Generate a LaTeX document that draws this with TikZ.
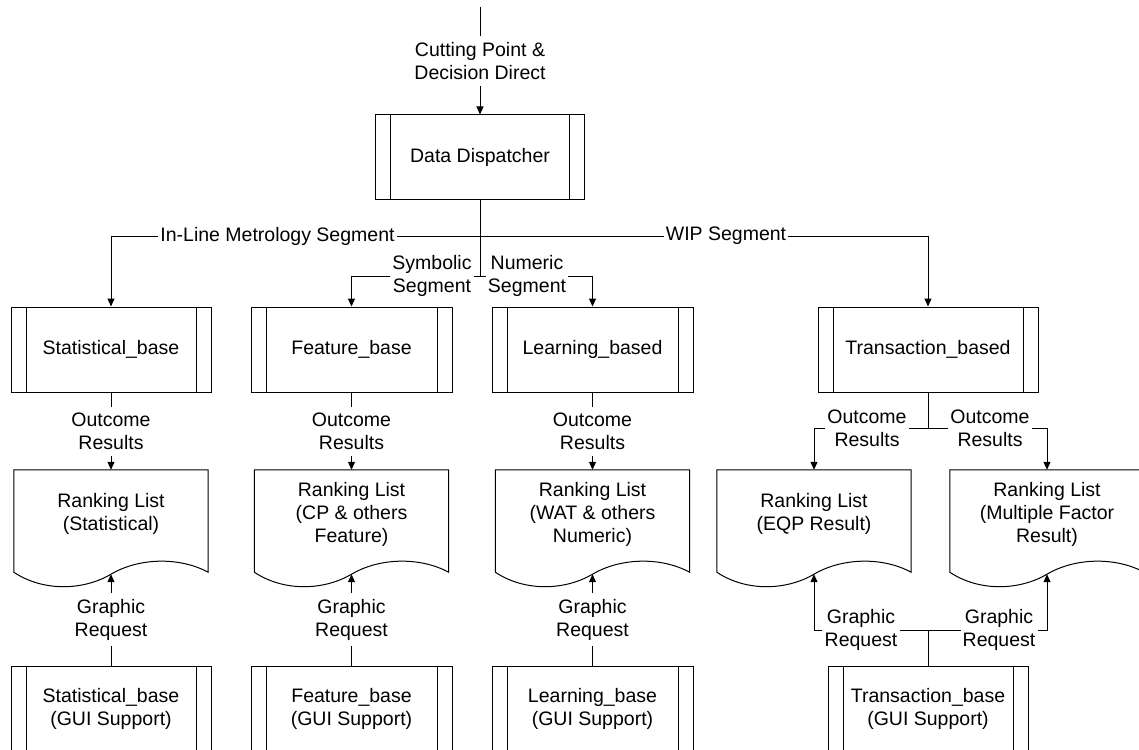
\documentclass[tikz,border=0pt]{standalone}
\usepackage{fontspec}
\setmainfont{Liberation Sans}
\usetikzlibrary{arrows.meta,calc}

\tikzset{
  conn/.style={line width=1pt},
  arr/.style={conn, -{Triangle[length=8pt,width=7pt]}},
  proc/.style={draw, line width=1pt, minimum height=85pt, align=center, inner sep=0pt,
    path picture={
      \draw[line width=1pt]
        ([xshift=15pt]path picture bounding box.north west) -- ([xshift=15pt]path picture bounding box.south west)
        ([xshift=-15pt]path picture bounding box.north east) -- ([xshift=-15pt]path picture bounding box.south east);
    }},
  doc/.style={minimum width=194pt, minimum height=88pt, align=center, inner sep=0pt},
  lbl/.style={align=center, fill=white, inner xsep=2pt, inner ysep=6pt},
}

% document symbol: straight top and sides, wavy bottom edge
\newcommand\docoutline[1]{%
  \draw[conn] ($(#1.south west)+(0,14)$) -- (#1.north west) -- (#1.north east) -- ($(#1.south east)+(0,14)$)
    .. controls +(-30,-16) and +(27,-16) .. ($(#1.south)+(0,16)$)
    .. controls +(-27,16) and +(30,20) .. ($(#1.south west)+(0,14)$) -- cycle;
  \coordinate (#1w) at ($(#1.south)+(0,16)$);%
}

\begin{document}
\begin{tikzpicture}[x=1pt, y=-1pt, font=\fontsize{19.5}{23}\selectfont]
\useasboundingbox (0,0) rectangle (1139,749);
\clip (0,0) rectangle (1139,749);

% dispatcher
\coordinate (src) at (480,7);
\node[lbl] (cut) at (480,61) {Cutting Point \&\\Decision Direct};
\node[proc, minimum width=209pt, minimum height=84pt] (dd) at (480,157) {Data Dispatcher};
\draw[conn] (src) -- (cut);
\draw[arr] (cut) -- (dd);

% analysis engines
\node[proc, minimum width=200pt] (sb) at (111,349.5) {Statistical\_base};
\node[proc, minimum width=201pt] (fb) at (351.5,349.5) {Feature\_base};
\node[proc, minimum width=201pt] (lb) at (592.5,349.5) {Learning\_based};
\node[proc, minimum width=220pt] (tb) at (928,349.5) {Transaction\_based};

% segment routing
\coordinate (j1) at (480,236);
\coordinate (j2) at (480,276);
\node[lbl] (ilm) at (277.5,236) {In-Line Metrology Segment};
\node[lbl] (wip) at (726,236) {WIP Segment};
\node[lbl] (sym) at (432,276) {Symbolic\\Segment};
\node[lbl] (num) at (527,276) {Numeric\\Segment};
\draw[conn] (dd) -- (j2);
\draw[conn] (j1) -- (ilm);
\draw[arr] (ilm) -| (sb);
\draw[conn] (j1) -- (wip);
\draw[arr] (wip) -| (tb);
\draw[conn] (j2) -- (sym);
\draw[arr] (sym) -| (fb);
\draw[conn] (j2) -- (num);
\draw[arr] (num) -| (lb);

% ranking lists
\node[doc] (d1) at (111,514) {Ranking List\\(Statistical)};
\node[doc] (d2) at (351.5,514) {Ranking List\\(CP \& others\\Feature)};
\node[doc] (d3) at (592.5,514) {Ranking List\\(WAT \& others\\Numeric)};
\node[doc] (d4) at (814,514) {Ranking List\\(EQP Result)};
\node[doc] (d5) at (1047,514) {Ranking List\\(Multiple Factor\\Result)};
\docoutline{d1}
\docoutline{d2}
\docoutline{d3}
\docoutline{d4}
\docoutline{d5}

% outcome results
\node[lbl] (o1) at (111,431.5) {Outcome\\Results};
\node[lbl] (o2) at (351.5,431.5) {Outcome\\Results};
\node[lbl] (o3) at (592.5,431.5) {Outcome\\Results};
\draw[conn] (sb) -- (o1);
\draw[arr] (o1) -- (d1);
\draw[conn] (fb) -- (o2);
\draw[arr] (o2) -- (d2);
\draw[conn] (lb) -- (o3);
\draw[arr] (o3) -- (d3);

\coordinate (j3) at (928,428);
\node[lbl] (o4) at (867,428) {Outcome\\Results};
\node[lbl] (o5) at (990,428) {Outcome\\Results};
\draw[conn] (tb) -- (j3);
\draw[conn] (j3) -- (o4);
\draw[arr] (o4) -| (d4);
\draw[conn] (j3) -- (o5);
\draw[arr] (o5) -| (d5);

% GUI support modules
\node[proc, minimum width=200pt] (sg) at (111,708.5) {Statistical\_base\\(GUI Support)};
\node[proc, minimum width=201pt] (fg) at (351.5,708.5) {Feature\_base\\(GUI Support)};
\node[proc, minimum width=201pt] (lg) at (592.5,708.5) {Learning\_base\\(GUI Support)};
\node[proc, minimum width=200pt] (tg) at (928,708.5) {Transaction\_base\\(GUI Support)};

% graphic requests
\node[lbl] (g1) at (111,619.5) {Graphic\\Request};
\node[lbl] (g2) at (351.5,619.5) {Graphic\\Request};
\node[lbl] (g3) at (592.5,619.5) {Graphic\\Request};
\draw[conn] (sg) -- (g1);
\draw[arr] (g1) -- (d1w);
\draw[conn] (fg) -- (g2);
\draw[arr] (g2) -- (d2w);
\draw[conn] (lg) -- (g3);
\draw[arr] (g3) -- (d3w);

\coordinate (j4) at (928,630);
\node[lbl] (g4) at (861,630) {Graphic\\Request};
\node[lbl] (g5) at (999,630) {Graphic\\Request};
\draw[conn] (tg) -- (j4);
\draw[conn] (j4) -- (g4);
\draw[arr] (g4) -| (d4w);
\draw[conn] (j4) -- (g5);
\draw[arr] (g5) -| (d5w);
\end{tikzpicture}
\end{document}
